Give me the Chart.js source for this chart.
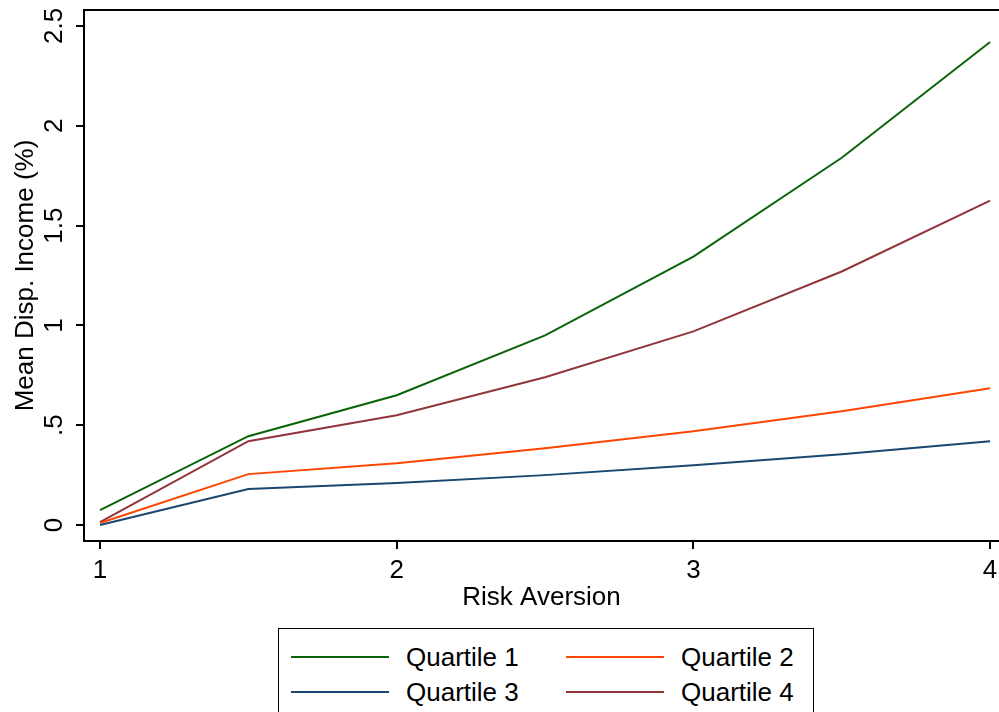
<!DOCTYPE html>
<html>
<head>
<meta charset="utf-8">
<script src="https://cdn.jsdelivr.net/npm/chart.js@4.4.0/dist/chart.umd.min.js"></script>
<style>
html, body { margin: 0; padding: 0; background: #fff; }
#wrap { position: relative; width: 999px; height: 712px; overflow: hidden; }
#legend {
    position: absolute; left: 278px; top: 628px; width: 536px; height: 120px;
    border: 1.5px solid #000; box-sizing: border-box; background: #fff;
    font-family: "Liberation Sans", Arial, sans-serif; font-size: 26px; color: #000;
}
.item { position: absolute; display: flex; align-items: center; height: 30px; }
.swatch { width: 98px; height: 0; border-top: 2px solid; margin-right: 17px; }
</style>
</head>
<body>
<div id="wrap">
    <canvas id="chart"></canvas>
    <div id="legend"></div>
</div>
<script>
const riskAversion = [1, 1.5, 2, 2.5, 3, 3.5, 4];
const quartile1 = [0.075, 0.445, 0.65, 0.95, 1.345, 1.84, 2.42];
const quartile2 = [0.01, 0.255, 0.31, 0.385, 0.47, 0.57, 0.685];
const quartile3 = [0.0, 0.18, 0.21, 0.25, 0.30, 0.355, 0.42];
const quartile4 = [0.015, 0.42, 0.55, 0.74, 0.97, 1.27, 1.625];

const seriesNames = ["Quartile 1", "Quartile 2", "Quartile 3", "Quartile 4"];
const seriesColors = ["#0a640a", "#ff4500", "#1a476f", "#90353b"];

const xTicks = [1, 2, 3, 4];
const xTickLabels = ["1", "2", "3", "4"];
const yTicks = [0, 0.5, 1, 1.5, 2, 2.5];
const yTickLabels = ["0", ".5", "1", "1.5", "2", "2.5"];

Chart.defaults.font.family = '"Liberation Sans", Arial, sans-serif';
Chart.defaults.font.size = 26;
Chart.defaults.color = "#000";

function points(values) {
    return values.map((v, i) => ({ x: riskAversion[i], y: v }));
}

const allSeries = [quartile1, quartile2, quartile3, quartile4];

// frame on top/left and vertical y tick labels (Stata style)
const frame = {
    id: 'frame',
    afterDraw(c) {
        const ctx = c.ctx;
        const a = c.chartArea;
        ctx.save();
        ctx.strokeStyle = "#000";
        ctx.lineWidth = 2;
        ctx.beginPath();
        ctx.moveTo(a.left, a.bottom);
        ctx.lineTo(a.left, a.top);
        ctx.lineTo(a.right, a.top);
        ctx.stroke();

        ctx.font = '26px "Liberation Sans", Arial, sans-serif';
        ctx.fillStyle = "#000";
        ctx.textAlign = "center";
        ctx.textBaseline = "middle";
        for (let i = 0; i < yTicks.length; i++) {
            const y = c.scales.y.getPixelForValue(yTicks[i]);
            ctx.save();
            ctx.translate(a.left - 29, y);
            ctx.rotate(-Math.PI / 2);
            ctx.fillText(yTickLabels[i], 0, 0);
            ctx.restore();
        }
        ctx.restore();
    }
};

new Chart(document.getElementById('chart').getContext('2d'), {
    type: 'line',
    data: {
        datasets: allSeries.map((s, i) => ({
            label: seriesNames[i],
            data: points(s),
            borderColor: seriesColors[i],
            backgroundColor: seriesColors[i],
            borderWidth: 2,
            pointRadius: 0,
            tension: 0,
            fill: false
        }))
    },
    options: {
        responsive: true,
        maintainAspectRatio: false,
        animation: false,
        layout: { padding: { top: 10, right: 0, bottom: 97, left: 0 } },
        scales: {
            x: {
                type: 'linear',
                min: 0.946,
                max: 4.03,
                afterBuildTicks: (scale) => { scale.ticks = xTicks.map(v => ({ value: v })); },
                afterFit: (scale) => {
                    scale.height = 74;
                    scale.paddingLeft = 0;
                    scale.paddingRight = 0;
                },
                grid: { drawOnChartArea: false, drawTicks: true, tickLength: 8, tickColor: "#000", lineWidth: 2 },
                border: { display: true, color: "#000", width: 2 },
                ticks: {
                    padding: 6,
                    maxRotation: 0,
                    callback: (v) => xTickLabels[xTicks.indexOf(v)]
                },
                title: { display: true, text: "Risk Aversion", padding: { top: 0, bottom: 2 } }
            },
            y: {
                type: 'linear',
                min: -0.08,
                max: 2.58,
                afterBuildTicks: (scale) => { scale.ticks = yTicks.map(v => ({ value: v })); },
                afterFit: (scale) => {
                    scale.width = 84;
                    scale.paddingTop = 0;
                    scale.paddingBottom = 0;
                },
                grid: { drawOnChartArea: false, drawTicks: true, tickLength: 8, tickColor: "#000", lineWidth: 2 },
                border: { display: true, color: "#000", width: 2 },
                ticks: { display: false },
                title: { display: true, text: "Mean Disp. Income (%)", padding: { top: 10, bottom: 0 } }
            }
        },
        plugins: {
            legend: { display: false },
            tooltip: { enabled: false }
        }
    },
    plugins: [frame]
});

// legend box below the plot
const legend = document.getElementById("legend");
const legendPos = [[12, 13], [287, 13], [12, 48], [287, 48]];
for (let i = 0; i < seriesNames.length; i++) {
    const item = document.createElement("div");
    item.className = "item";
    item.style.left = legendPos[i][0] + "px";
    item.style.top = legendPos[i][1] + "px";
    item.innerHTML = '<span class="swatch" style="border-color:' + seriesColors[i] + '"></span>' + seriesNames[i];
    legend.appendChild(item);
}
</script>
</body>
</html>
